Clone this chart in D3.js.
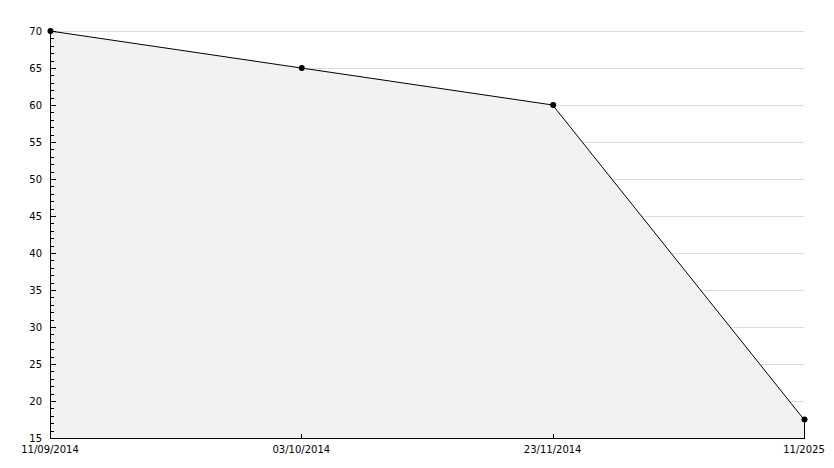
<!DOCTYPE html>
<html>
<head>
<meta charset="utf-8">
<script src="https://cdn.jsdelivr.net/npm/d3@7"></script>
<style>
  body { margin: 0; background: #fff; }
  text { font-family: "DejaVu Sans", sans-serif; font-size: 10px; fill: #000; }
</style>
</head>
<body>
<svg id="chart" width="834" height="468"></svg>
<script>
var width = 834, height = 468

var dates = ["11/09/2014", "03/10/2014", "23/11/2014", "11/2025"]
var values = [70, 65, 60, 17.5]
var yTicks = [15, 20, 25, 30, 35, 40, 45, 50, 55, 60, 65, 70]

var plotLeft = 50, plotRight = 804, plotTop = 31, plotBottom = 438

var data = dates.map((d, i) => ({date: d, value: values[i]}))

var x = d3.scalePoint().domain(dates).range([plotLeft, plotRight])
var y = d3.scaleLinear().domain([15, 70]).range([plotBottom, plotTop])

var svg = d3.select('#chart')

// grid
svg.append('g')
  .selectAll('line')
  .data(yTicks.filter(t => t > 15))
  .enter().append('line')
  .attr('x1', plotLeft).attr('x2', plotRight)
  .attr('y1', d => Math.round(y(d)) + 0.5)
  .attr('y2', d => Math.round(y(d)) + 0.5)
  .attr('stroke', '#dddddd')

// area
var area = d3.area()
  .x(d => x(d.date))
  .y0(y(15))
  .y1(d => y(d.value))

svg.append('path')
  .datum(data)
  .attr('d', area)
  .attr('fill', '#f2f2f2')
  .attr('stroke', 'none')

svg.append('path')
  .datum(data)
  .attr('d', d3.line().x(d => x(d.date)).y(d => y(d.value)))
  .attr('fill', 'none')
  .attr('stroke', '#000')

// right edge of area
var last = data[data.length - 1]
svg.append('line')
  .attr('x1', x(last.date) + 0.5).attr('x2', x(last.date) + 0.5)
  .attr('y1', y(last.value)).attr('y2', y(15))
  .attr('stroke', '#000')

// y axis
var minor = d3.range(15, 71, 1)
svg.append('g')
  .selectAll('line')
  .data(minor)
  .enter().append('line')
  .attr('x1', plotLeft)
  .attr('x2', d => d % 5 === 0 ? plotLeft + 6 : plotLeft + 4)
  .attr('y1', d => Math.round(y(d)) + 0.5)
  .attr('y2', d => Math.round(y(d)) + 0.5)
  .attr('stroke', '#000')

svg.append('line')
  .attr('x1', plotLeft + 0.5).attr('x2', plotLeft + 0.5)
  .attr('y1', plotTop).attr('y2', plotBottom)
  .attr('stroke', '#000')

svg.append('g')
  .selectAll('text')
  .data(yTicks)
  .enter().append('text')
  .attr('x', 42)
  .attr('y', d => y(d) + 4)
  .attr('text-anchor', 'end')
  .text(d => d)

// x axis
svg.append('line')
  .attr('x1', plotLeft).attr('x2', plotRight + 1)
  .attr('y1', plotBottom + 0.5).attr('y2', plotBottom + 0.5)
  .attr('stroke', '#000')

svg.append('g')
  .selectAll('line')
  .data(dates)
  .enter().append('line')
  .attr('x1', d => Math.round(x(d)) + 0.5)
  .attr('x2', d => Math.round(x(d)) + 0.5)
  .attr('y1', plotBottom - 4).attr('y2', plotBottom)
  .attr('stroke', '#000')

svg.append('g')
  .selectAll('text')
  .data(dates)
  .enter().append('text')
  .attr('x', d => x(d))
  .attr('y', plotBottom + 15)
  .attr('text-anchor', 'middle')
  .text(d => d)

// markers
svg.append('g')
  .selectAll('circle')
  .data(data)
  .enter().append('circle')
  .attr('cx', d => x(d.date) + 0.5)
  .attr('cy', d => y(d.value))
  .attr('r', 3)
  .attr('fill', '#000')
</script>
</body>
</html>
